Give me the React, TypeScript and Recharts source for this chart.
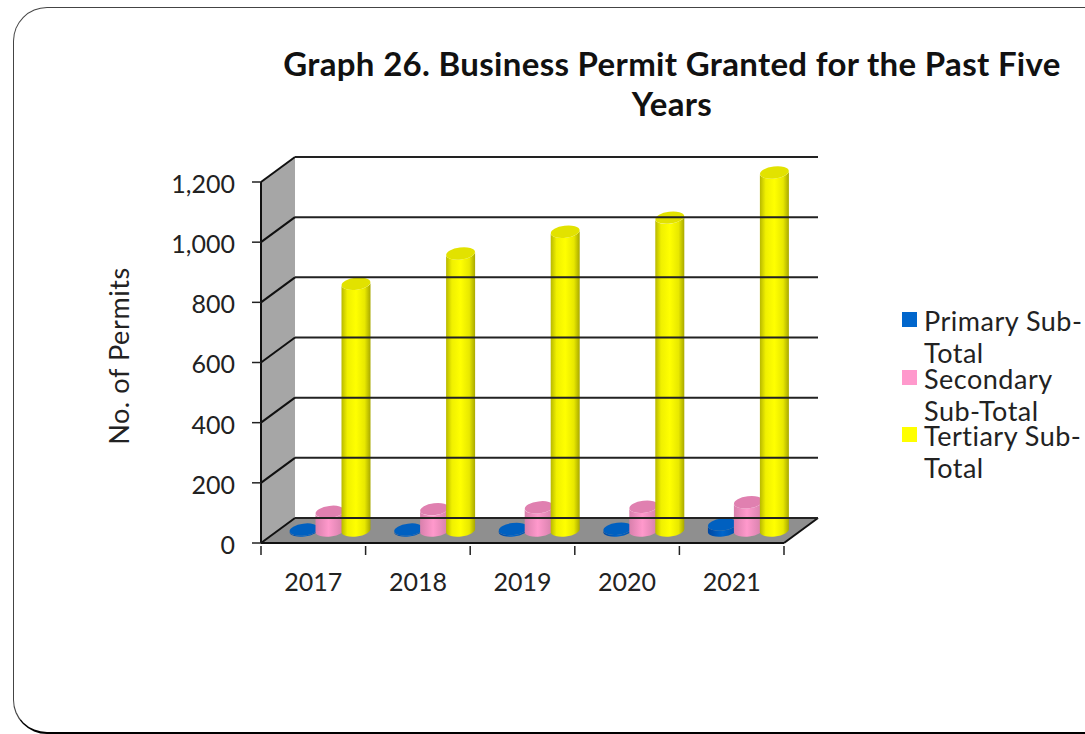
import React from "react";
import { BarChart, Bar, XAxis, YAxis, Legend, ReferenceArea, ReferenceLine } from "recharts";

const YEARS = ["2017", "2018", "2019", "2020", "2021"];
const PRIMARY = [3, 3, 5, 6, 20];
const SECONDARY = [62, 71, 77, 79, 94];
const TERTIARY = [820, 921, 993, 1040, 1190];
const Y_TICKS = [0, 200, 400, 600, 800, 1000, 1200];

const rows = YEARS.map((year, i) => ({
  year,
  primary: PRIMARY[i],
  secondary: SECONDARY[i],
  tertiary: TERTIARY[i],
}));

const FONT = "Lato, sans-serif";
// depth of the fake 3D box, and the bars sit half way into it
const DEPTH_X = 34;
const DEPTH_Y = -25;

const Cylinder = (props: any) => {
  const { x, y, width, height, side, top } = props;
  const w = width + 3;
  const l = x + DEPTH_X / 2 - 1.5;
  const r = l + w;
  const yTop = y + DEPTH_Y / 2;
  const yBot = y + height + DEPTH_Y / 2;
  const rx = w / 2;
  const ry = 6;
  const tilt = 1.8;
  const cx = (l + r) / 2;
  return (
    <g>
      <path
        d={`M${l},${yTop + tilt} L${l},${yBot + tilt} A${rx},${ry} -7 0 0 ${r},${yBot - tilt} L${r},${yTop - tilt} A${rx},${ry} -7 0 1 ${l},${yTop + tilt} Z`}
        fill={`url(#${side})`}
      />
      <ellipse cx={cx} cy={yTop} rx={rx} ry={ry} fill={top} transform={`rotate(-7 ${cx} ${yTop})`} />
    </g>
  );
};

const XTick = (props: any) => {
  const { x, y, payload, index } = props;
  const band = 104.6;
  return (
    <g>
      <line x1={x - band / 2} x2={x - band / 2} y1={y - 8} y2={y + 1} stroke="#222" strokeWidth={1.5} />
      {index === YEARS.length - 1 && (
        <line x1={x + band / 2} x2={x + band / 2} y1={y - 8} y2={y + 1} stroke="#222" strokeWidth={1.5} />
      )}
      <text x={x} y={y + 37} textAnchor="middle" fontSize={25} fontFamily={FONT} fill="#222">
        {payload.value}
      </text>
    </g>
  );
};

const Walls = (props: any) => {
  const { x, y, width, height } = props;
  const bottom = y + height;
  return (
    <g>
      <polygon
        points={`${x},${y} ${x + DEPTH_X},${y + DEPTH_Y} ${x + DEPTH_X},${bottom + DEPTH_Y} ${x},${bottom}`}
        fill="#a6a6a6"
      />
      <polygon
        points={`${x},${bottom} ${x + DEPTH_X},${bottom + DEPTH_Y} ${x + width + DEPTH_X},${bottom + DEPTH_Y} ${x + width},${bottom}`}
        fill="#8f8f8f"
      />
      <line
        x1={x + width}
        y1={bottom}
        x2={x + width + DEPTH_X}
        y2={bottom + DEPTH_Y}
        stroke="#111"
        strokeWidth={2}
      />
    </g>
  );
};

const DepthGridLine = (props: any) => {
  const { x1, y1, x2, y2 } = props;
  return (
    <g>
      <line x1={x1} y1={y1} x2={x1 + DEPTH_X} y2={y1 + DEPTH_Y} stroke="#111" strokeWidth={2} />
      <line x1={x1 + DEPTH_X} y1={y1 + DEPTH_Y} x2={x2 + DEPTH_X} y2={y2 + DEPTH_Y} stroke="#222" strokeWidth={2} />
    </g>
  );
};

const LegendBox = ({ payload }: any) => (
  <div style={{ width: 185 }}>
    {payload.map((item: any) => (
      <div key={item.value} style={{ position: "relative", height: 57.5, paddingLeft: 22 }}>
        <span
          style={{
            position: "absolute",
            left: 0,
            top: 7,
            width: 15,
            height: 15,
            background: item.color,
          }}
        />
        <span
          style={{
            fontFamily: FONT,
            fontSize: 27,
            letterSpacing: 0.5,
            lineHeight: "32px",
            color: "#222",
            display: "block",
          }}
        >
          {item.value}
        </span>
      </div>
    ))}
  </div>
);

export default function App() {
  return (
    <div style={{ position: "absolute", left: 0, top: 0, width: 1085, height: 734, overflow: "hidden", background: "#fff" }}>
      <div
        style={{
          position: "absolute",
          left: 13,
          top: 7,
          width: 1140,
          height: 724,
          border: "1px solid #444",
          borderBottom: "2px solid #000",
          borderRadius: 34,
        }}
      />
      <div
        style={{
          position: "absolute",
          left: 272,
          top: 43,
          width: 800,
          textAlign: "center",
          fontFamily: FONT,
          fontWeight: 700,
          fontSize: 33,
          letterSpacing: 0.32,
          lineHeight: "40px",
          color: "#111",
          whiteSpace: "nowrap",
        }}
      >
        Graph 26. Business Permit Granted for the Past Five
        <br />
        Years
      </div>
      <BarChart
        width={1085}
        height={734}
        data={rows}
        margin={{ top: 182, right: 301, bottom: 161, left: 100 }}
        barSize={26}
        barGap={0}
        style={{ position: "absolute", left: 0, top: 0 }}
      >
        <defs>
          <linearGradient id="sideBlue" x1="0" x2="1" y1="0" y2="0">
            <stop offset="0" stopColor="#0047a0" />
            <stop offset="0.5" stopColor="#0066cc" />
            <stop offset="1" stopColor="#0050a8" />
          </linearGradient>
          <linearGradient id="sidePink" x1="0" x2="1" y1="0" y2="0">
            <stop offset="0" stopColor="#d880ac" />
            <stop offset="0.45" stopColor="#ff99cc" />
            <stop offset="1" stopColor="#d27fa9" />
          </linearGradient>
          <linearGradient id="sideYellow" x1="0" x2="1" y1="0" y2="0">
            <stop offset="0" stopColor="#b8b800" />
            <stop offset="0.2" stopColor="#f0f000" />
            <stop offset="0.5" stopColor="#ffff00" />
            <stop offset="0.8" stopColor="#e8e800" />
            <stop offset="1" stopColor="#a8a800" />
          </linearGradient>
        </defs>
        <ReferenceArea y1={0} y2={1200} shape={<Walls />} />
        {Y_TICKS.map((t) => (
          <ReferenceLine key={t} y={t} shape={<DepthGridLine />} />
        ))}
        <XAxis
          dataKey="year"
          axisLine={{ stroke: "#111", strokeWidth: 2 }}
          tickLine={false}
          tick={<XTick />}
          interval={0}
          tickSize={9}
        />
        <YAxis
          domain={[0, 1200]}
          ticks={Y_TICKS}
          interval={0}
          width={161}
          tickSize={9}
          tickMargin={17}
          axisLine={{ stroke: "#111", strokeWidth: 2 }}
          tickLine={{ stroke: "#222", strokeWidth: 1.5 }}
          tickFormatter={(v: number) => v.toLocaleString("en-US")}
          tick={{ fontSize: 25, fontFamily: FONT, fill: "#222", dy: 2 }}
          label={{
            value: "No. of Permits",
            angle: -90,
            position: { x: 29, y: 174 },
            style: { fontSize: 27, letterSpacing: 0.6, fontFamily: FONT, fill: "#222", textAnchor: "middle" },
          }}
        />
        <Legend
          layout="vertical"
          align="center"
          verticalAlign="middle"
          content={<LegendBox />}
          wrapperStyle={{ position: "absolute", left: 902, top: 305, width: 183, height: 175 }}
        />
        <Bar dataKey="primary" name="Primary Sub-Total" fill="#0066cc" isAnimationActive={false}
          shape={<Cylinder side="sideBlue" top="#0060c0" />} />
        <Bar dataKey="secondary" name="Secondary Sub-Total" fill="#ff99cc" isAnimationActive={false}
          shape={<Cylinder side="sidePink" top="#e080b0" />} />
        <Bar dataKey="tertiary" name="Tertiary Sub-Total" fill="#ffff00" isAnimationActive={false}
          shape={<Cylinder side="sideYellow" top="#e2e200" />} />
      </BarChart>
    </div>
  );
}
